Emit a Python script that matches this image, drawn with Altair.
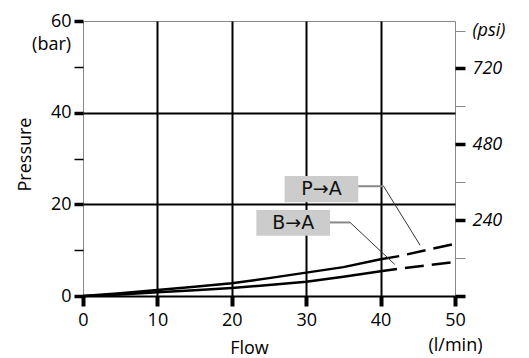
import altair as alt
import pandas as pd

# P->A curve (solid part, then dashed extrapolation)
flow_pa = [0, 5, 10, 15, 20, 25, 30, 35, 40, 42.5]
press_pa = [0, 0.6, 1.3, 2.0, 2.8, 3.9, 5.1, 6.3, 8.0, 8.7]
flow_pa_dash = [42.5, 50]
press_pa_dash = [8.7, 11.4]

# B->A curve
flow_ba = [0, 5, 10, 15, 20, 25, 30, 35, 40, 42.2]
press_ba = [0, 0.35, 0.8, 1.25, 1.75, 2.4, 3.1, 4.2, 5.4, 5.9]
flow_ba_dash = [42.2, 50]
press_ba_dash = [5.9, 7.4]

# label boxes
labels = ["P→A", "B→A"]
box_x1 = [27.1, 23.3]
box_x2 = [37.0, 33.2]
box_y1 = [20.46, 13.17]
box_y2 = [26.2, 18.78]
# leader lines
lead_hx1 = [37.0, 33.2]
lead_hx2 = [40.4, 35.9]
lead_hy = [23.95, 16.05]
lead_dx2 = [45.3, 41.9]
lead_dy2 = [11.1, 6.9]

x_ticks = list(range(0, 51, 5))
y_ticks = list(range(0, 61, 10))
psi_ticks = [0, 120, 240, 360, 480, 600, 720, 840]
psi_max = 60 * 14.5038

FONT = "Open Sans"

df_solid = pd.DataFrame({
    "flow": flow_pa + flow_ba,
    "pressure": press_pa + press_ba,
    "series": ["P→A"] * len(flow_pa) + ["B→A"] * len(flow_ba),
})
df_dash = pd.DataFrame({
    "flow": flow_pa_dash + flow_ba_dash,
    "pressure": press_pa_dash + press_ba_dash,
    "series": ["P→A"] * 2 + ["B→A"] * 2,
})
df_box = pd.DataFrame({
    "label": labels,
    "flow": box_x1, "flow2": box_x2,
    "pressure": box_y1, "pressure2": box_y2,
    "tx": [(a + b) / 2 for a, b in zip(box_x1, box_x2)],
    "ty": [(a + b) / 2 for a, b in zip(box_y1, box_y2)],
})
df_lead_h = pd.DataFrame({"flow": lead_hx1, "flow2": lead_hx2, "pressure": lead_hy})
df_lead_d = pd.DataFrame({"flow": lead_hx2, "flow2": lead_dx2,
                          "pressure": lead_hy, "pressure2": lead_dy2})
df_unit = pd.DataFrame({"flow": [-1.6], "pressure": [54.8], "t": ["(bar)"]})
df_psi = pd.DataFrame({"flow": [0, 50], "psi": [0, psi_max]})

xs = alt.Scale(domain=[0, 50], nice=False, zero=False)
ys = alt.Scale(domain=[0, 60], nice=False, zero=False)

x_axis = alt.Axis(
    values=x_ticks,
    labelExpr="datum.value % 10 == 0 ? (datum.value == 50 ? ['50', '(l/min)'] : datum.label) : ''",
    labelFlush=False, labelOverlap=False, labelLineHeight=25,
    labelFont=FONT, labelFontSize=18, labelColor="black", labelPadding=5,
    tickSize=10, tickColor="black",
    tickWidth={"condition": {"test": "datum.value % 10 == 0", "value": 4}, "value": 1.5},
    domain=False, grid=True, gridColor="black", gridWidth=2,
    gridOpacity={"condition": {"test": "datum.value > 0 && datum.value < 50 && datum.value % 10 == 0", "value": 1}, "value": 0},
    title="Flow", titleFont=FONT, titleFontSize=18, titleFontWeight="normal", titleColor="black",
    titleX=166, titleY=52, titleAlign="center", titleBaseline="middle",
)
y_axis = alt.Axis(
    values=y_ticks,
    labelExpr="datum.value % 20 == 0 ? datum.label : ''",
    labelFlush=False, labelOverlap=False,
    labelFont=FONT, labelFontSize=18, labelColor="black", labelPadding=3,
    tickSize=9, tickColor="black",
    tickWidth={"condition": {"test": "datum.value % 20 == 0", "value": 3.5}, "value": 1.5},
    domain=False, grid=True, gridColor="black", gridWidth=2,
    gridOpacity={"condition": {"test": "datum.value < 60 && datum.value % 20 == 0", "value": 1}, "value": 0},
    title="Pressure", titleFont=FONT, titleFontSize=18, titleFontWeight="normal", titleColor="black",
    titleX=-58, titleY=133, titleAngle=270, titleAlign="center", titleBaseline="middle",
)
psi_axis = alt.Axis(
    orient="right", values=psi_ticks,
    labelExpr="datum.value == 840 ? '(psi)' : (datum.value % 240 == 0 && datum.value > 0 ? datum.label : '')",
    labelFlush=False, labelOverlap=False,
    labelFont=FONT, labelFontSize=18, labelFontStyle="italic", labelColor="black", labelPadding=7,
    tickSize=10,
    tickColor={"condition": {"test": "datum.value % 240 == 0", "value": "black"}, "value": "#888888"},
    tickWidth={"condition": {"test": "datum.value % 240 == 0", "value": 3.5}, "value": 1},
    domain=False, grid=False, title=None,
)

solid = alt.Chart(df_solid).mark_line(color="black", strokeWidth=2.5).encode(
    x=alt.X("flow:Q", scale=xs, axis=x_axis),
    y=alt.Y("pressure:Q", scale=ys, axis=y_axis),
    detail="series:N",
)
dashed = alt.Chart(df_dash).mark_line(color="black", strokeWidth=2.5,
                                      strokeDash=[19, 8], strokeDashOffset=19).encode(
    x=alt.X("flow:Q", scale=xs), y=alt.Y("pressure:Q", scale=ys), detail="series:N",
)
boxes = alt.Chart(df_box).mark_rect(color="#cccccc").encode(
    x=alt.X("flow:Q", scale=xs), x2="flow2",
    y=alt.Y("pressure:Q", scale=ys), y2="pressure2",
)
box_text = alt.Chart(df_box).mark_text(font="DejaVu Sans", fontSize=19, color="#111111",
                                       align="center", baseline="middle").encode(
    x=alt.X("tx:Q", scale=xs), y=alt.Y("ty:Q", scale=ys), text="label:N",
)
lead_h = alt.Chart(df_lead_h).mark_rule(color="#888888", strokeWidth=2).encode(
    x=alt.X("flow:Q", scale=xs), x2="flow2", y=alt.Y("pressure:Q", scale=ys),
)
lead_d = alt.Chart(df_lead_d).mark_rule(color="#333333", strokeWidth=1).encode(
    x=alt.X("flow:Q", scale=xs), x2="flow2",
    y=alt.Y("pressure:Q", scale=ys), y2="pressure2",
)
unit = alt.Chart(df_unit).mark_text(font=FONT, fontSize=18, color="black",
                                    align="right", baseline="middle").encode(
    x=alt.X("flow:Q", scale=xs), y=alt.Y("pressure:Q", scale=ys), text="t:N",
)
left = alt.layer(solid, dashed, boxes, box_text, lead_h, lead_d, unit)

psi_layer = alt.Chart(df_psi).mark_point(opacity=0).encode(
    x=alt.X("flow:Q", scale=xs),
    y=alt.Y("psi:Q", scale=alt.Scale(domain=[0, psi_max], nice=False, zero=False), axis=psi_axis),
)

chart = alt.layer(left, psi_layer).resolve_scale(y="independent").properties(
    width=372, height=275,
    autosize=alt.AutoSizeParams(type="none"),
    padding={"left": 75, "top": 13, "right": 60, "bottom": 62},
    background="white",
).configure_view(stroke="#888888", strokeWidth=1)

chart.save("out.html", embed_options={"renderer": "svg", "actions": False})
